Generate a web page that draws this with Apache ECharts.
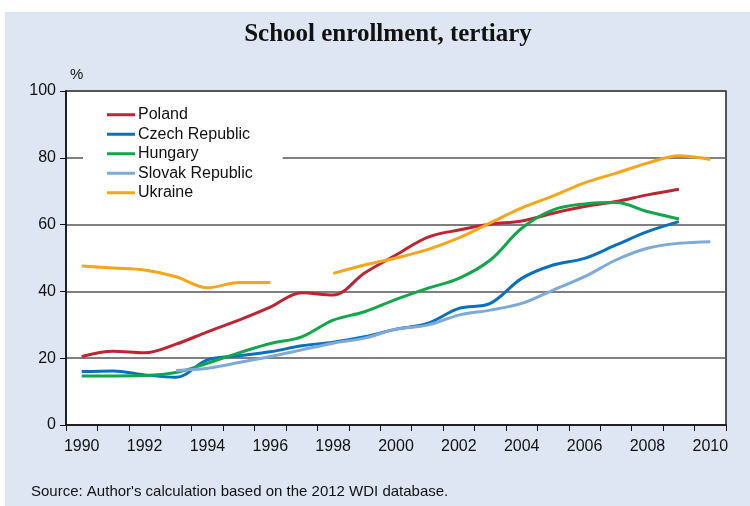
<!DOCTYPE html>
<html>
<head>
<meta charset="utf-8">
<script src="https://cdn.jsdelivr.net/npm/echarts@6/dist/echarts.min.js"></script>
<style>
  html, body { margin: 0; padding: 0; background: #ffffff; }
  #wrap { position: relative; width: 750px; height: 506px; background: #ffffff; overflow: hidden; }
  #panel { position: absolute; left: 5px; top: 12px; right: 0; bottom: 0; background: #dfe6f3; }
  #chart { position: absolute; left: 0; top: 0; width: 750px; height: 506px; }
</style>
</head>
<body>
<div id="wrap"><div id="panel"></div><div id="chart"></div></div>
<script>
const years = ['1990','1991','1992','1993','1994','1995','1996','1997','1998','1999','2000',
               '2001','2002','2003','2004','2005','2006','2007','2008','2009','2010'];
const poland  = [20.5, 22.1, 21.6, 24.2, 27.9, 31.4, 35.3, 39.6, 38.9, 45.5, 50.9, 56.2, 58.4, 60.1, 61.1, 63.4, 65.4, 66.9, 68.9, 70.6, null];
const czech   = [16.0, 16.2, 15.0, 14.3, 19.5, 20.7, 21.9, 23.7, 24.8, 26.4, 28.7, 30.4, 34.9, 36.4, 43.9, 47.9, 49.9, 53.9, 57.9, 60.9, null];
const hungary = [14.7, 14.7, 14.8, 15.7, 18.5, 21.6, 24.4, 26.4, 31.4, 33.9, 37.6, 40.9, 43.9, 49.4, 58.9, 64.4, 66.2, 66.6, 63.9, 61.7, null];
const slovak  = [null, null, null, 16.3, 17.0, 18.7, 20.5, 22.5, 24.5, 26.0, 28.7, 29.9, 32.9, 34.4, 36.4, 40.4, 44.4, 49.4, 52.9, 54.4, 54.9];
const ukraine = [47.6, 47.0, 46.4, 44.4, 41.1, 42.7, 42.7, null, 45.4, 47.9, 50.0, 52.5, 56.0, 60.5, 65.0, 68.6, 72.5, 75.4, 78.4, 80.6, 79.5];
const yTicks = [0, 20, 40, 60, 80, 100];

const seriesDefs = [
  { name: 'Poland', data: poland, color: '#be2532' },
  { name: 'Czech Republic', data: czech, color: '#0a70bd' },
  { name: 'Hungary', data: hungary, color: '#12a64a' },
  { name: 'Slovak Republic', data: slovak, color: '#7eaad8' },
  { name: 'Ukraine', data: ukraine, color: '#f8a51b' }
];

const chart = echarts.init(document.getElementById('chart'), null, { renderer: 'canvas' });
chart.setOption({
  backgroundColor: 'transparent',
  animation: false,
  title: {
    text: 'School enrollment, tertiary',
    left: 383, top: 17, textAlign: 'center',
    textStyle: { fontFamily: 'Liberation Serif', fontWeight: 'bold', fontSize: 25, color: '#111' }
  },
  graphic: [
    { type: 'text', left: 70, top: 67, style: { text: '%', font: '15px "Liberation Sans"', fill: '#111' } },
    { type: 'text', left: 31, top: 484, style: { text: "Source: Author's calculation based on the 2012 WDI database.", font: '15px "Liberation Sans"', fill: '#111' } }
  ],
  legend: {
    orient: 'vertical',
    left: 83, top: 105,
    backgroundColor: '#ffffff',
    padding: [0, 30, 6, 24],
    itemWidth: 28, itemHeight: 3, itemGap: 0,
    icon: 'rect',
    textStyle: { fontFamily: 'Liberation Sans', fontSize: 16, color: '#111', lineHeight: 19.5, padding: [0, 0, 0, -2] },
    data: seriesDefs.map(s => s.name)
  },
  grid: {
    left: 66, right: 24, top: 91, bottom: 81,
    show: true, backgroundColor: '#ffffff', borderColor: '#222', borderWidth: 1.5
  },
  xAxis: {
    type: 'category', data: years, boundaryGap: true,
    axisLine: { lineStyle: { color: '#111', width: 1.5 } },
    axisTick: { show: true, interval: 0, length: 6, lineStyle: { color: '#111' } },
    axisLabel: { interval: 1, margin: 14, fontFamily: 'Liberation Sans', fontSize: 16, color: '#111' },
    splitLine: { show: false }
  },
  yAxis: {
    type: 'value', min: 0, max: 100, interval: 20,
    axisLine: { show: true, lineStyle: { color: '#111', width: 1.5 } },
    axisTick: { show: true, length: 6, lineStyle: { color: '#111' } },
    axisLabel: { margin: 10, fontFamily: 'Liberation Sans', fontSize: 16, color: '#111',
                 formatter: v => yTicks.includes(v) ? String(v) : '' },
    splitLine: { show: true, lineStyle: { color: '#555', width: 1.5 } }
  },
  series: seriesDefs.map(s => ({
    name: s.name, type: 'line', data: s.data, smooth: 0.35,
    showSymbol: false, symbol: 'none', connectNulls: false,
    lineStyle: { color: s.color, width: 3 }, itemStyle: { color: s.color },
    z: 3
  }))
});
</script>
</body>
</html>
